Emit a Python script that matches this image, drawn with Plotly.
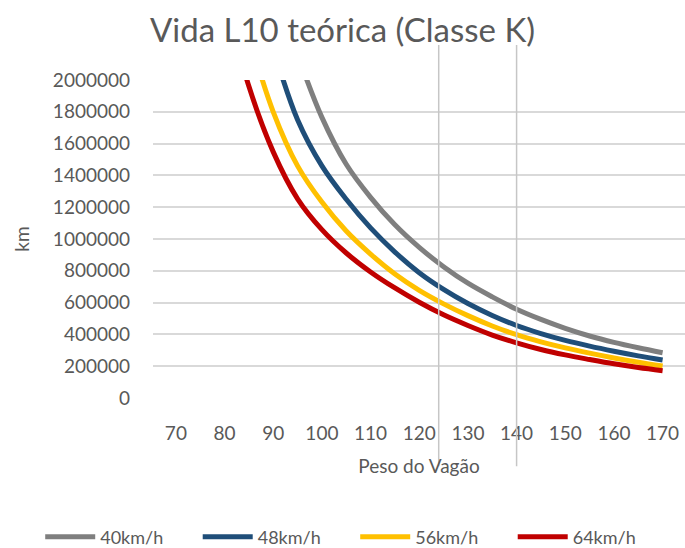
import plotly.graph_objects as go

# Vagão weight (t) and theoretical L10 life (km) per speed
peso = [80, 85, 90, 95, 100, 105, 110, 115, 120, 125, 130, 135, 140, 145, 150, 155, 160, 165, 170]

vida_40 = [None, None, None, 2160000, 1765000, 1470000, 1262000, 1089000, 947000, 826000,
           722000, 636000, 558000, 494000, 438000, 390000, 350000, 316000, 285000]
vida_48 = [None, None, 2200000, 1750000, 1460000, 1250000, 1070000, 918000, 788000, 683000,
           594000, 519000, 456000, 405000, 362000, 326000, 294000, 265000, 239000]
vida_56 = [None, 2280000, 1800000, 1460000, 1232000, 1050000, 905000, 780000, 677000, 592000,
           518000, 453000, 398000, 353000, 315000, 282000, 252000, 225000, 201000]
vida_64 = [2530000, 1960000, 1548000, 1253000, 1059000, 912000, 793000, 692000, 602000, 523000,
           456000, 396000, 347000, 305000, 271000, 242000, 215000, 192000, 172000]

series_names = ["40km/h", "48km/h", "56km/h", "64km/h"]
series_values = [vida_40, vida_48, vida_56, vida_64]
series_colors = ["#7f7f7f", "#1f4e79", "#ffc000", "#c00000"]

# reference weights marked with vertical lines
pesos_ref = [124, 140]

x_ticks = [70, 80, 90, 100, 110, 120, 130, 140, 150, 160, 170]
y_ticks = list(range(0, 2000001, 200000))

FONT = "Lato, 'Open Sans', sans-serif"
TXT = "#595959"

fig = go.Figure()
for name, vals, col in zip(series_names, series_values, series_colors):
    fig.add_trace(go.Scatter(
        x=peso, y=vals, name=name, mode="lines",
        line=dict(color=col, width=5, shape="spline", smoothing=1.0),
        connectgaps=False,
    ))

for p in pesos_ref:
    fig.add_shape(type="line", xref="x", yref="paper", x0=p, x1=p, y0=-0.215, y1=1.11,
                  line=dict(color="#c6c6c6", width=1.5), layer="above")

fig.update_layout(
    width=685, height=548,
    margin=dict(l=153, r=0, t=80, b=150, autoexpand=False),
    paper_bgcolor="white", plot_bgcolor="white",
    font=dict(family=FONT, color=TXT, size=19),
    title=dict(text="Vida L10 teórica (Classe K)", x=0.5, xref="container", xanchor="center",
               y=0.945, yref="container", yanchor="middle",
               font=dict(family=FONT, size=33, color=TXT)),
    showlegend=True,
    # anchored left of the plot area and below it so the row may span the full width
    legend=dict(orientation="h", xref="paper", yref="paper", x=-0.212, y=-0.437,
                xanchor="left", yanchor="middle", font=dict(size=18, color=TXT),
                entrywidth=92.5, entrywidthmode="pixels", itemwidth=50,
                bgcolor="rgba(0,0,0,0)"),
    xaxis=dict(range=[65.3, 174.6], tickvals=x_ticks, showgrid=False, zeroline=False,
               showline=False, ticks="", ticklabelstandoff=22,
               tickfont=dict(size=19, color=TXT),
               title=dict(text="Peso do Vagão", font=dict(size=19, color=TXT), standoff=16)),
    yaxis=dict(range=[0, 2000000], tickvals=y_ticks, tickformat="d", showgrid=True,
               gridcolor="#d9d9d9", gridwidth=1.5, zeroline=False, showline=False,
               ticks="", ticklabelstandoff=22, tickfont=dict(size=19, color=TXT),
               title=dict(text="km", font=dict(size=19, color=TXT), standoff=18)),
)

fig.write_html("out.html")
